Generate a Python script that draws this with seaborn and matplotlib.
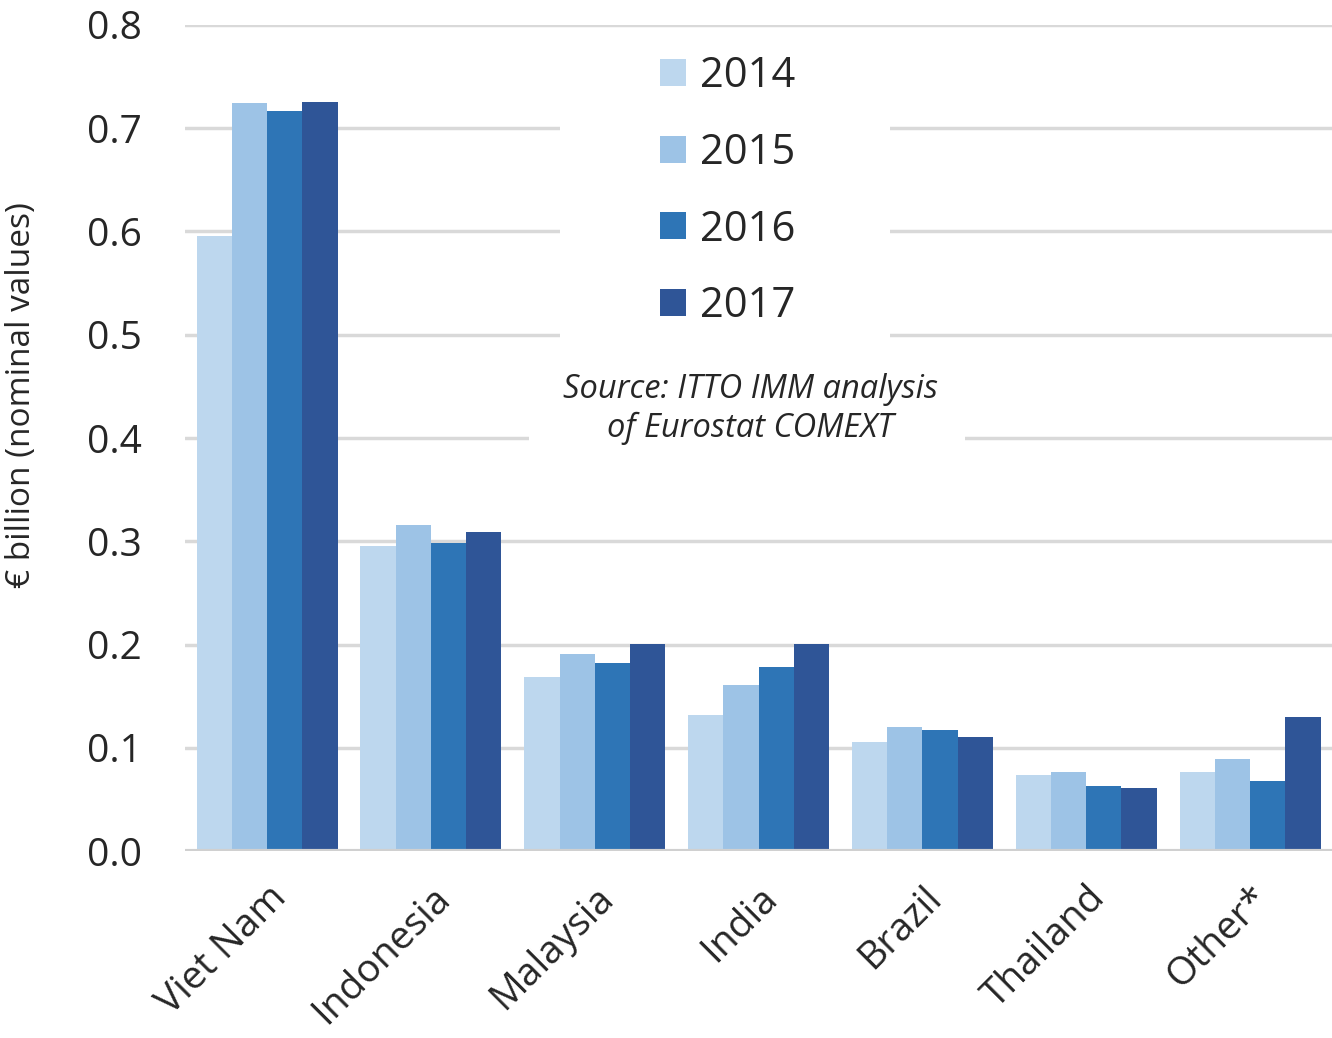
import pandas as pd
import matplotlib.pyplot as plt
import seaborn as sns
from matplotlib.patches import Rectangle

# Values (€ billion)
countries = ['Viet Nam', 'Indonesia', 'Malaysia', 'India', 'Brazil', 'Thailand', 'Other*']
years = ['2014', '2015', '2016', '2017']
v2014 = [0.596, 0.295, 0.169, 0.132, 0.106, 0.074, 0.077]
v2015 = [0.724, 0.316, 0.191, 0.161, 0.120, 0.077, 0.089]
v2016 = [0.717, 0.298, 0.182, 0.178, 0.117, 0.063, 0.068]
v2017 = [0.725, 0.309, 0.201, 0.201, 0.111, 0.061, 0.130]
colors = ['#BDD7EE', '#9DC3E6', '#2E75B6', '#2F5597']

df = pd.DataFrame({'Country': countries * 4,
                   'Year': [y for y in years for _ in countries],
                   'Value': v2014 + v2015 + v2016 + v2017})

sns.set_style('white')
plt.rcParams['font.family'] = ['Open Sans', 'DejaVu Sans']

fig = plt.figure(figsize=(13.32, 10.38), dpi=100)
ax = fig.add_axes([0.139, 0.18, 0.861, 0.796])

sns.barplot(data=df, x='Country', y='Value', hue='Year', palette=colors,
            width=0.86, gap=0, saturation=1, ax=ax, zorder=3, linewidth=0)

ax.set_ylim(0, 0.8)
ax.set_xlim(-0.5, 6.5)
ax.set_yticks([i / 10 for i in range(9)])
ax.set_yticklabels([f'{i / 10:.1f}' for i in range(9)], fontsize=28)
ax.yaxis.grid(True, color='#D9D9D9', linewidth=2.5, zorder=0)
ax.set_axisbelow(True)
for s in ['top', 'right', 'left', 'bottom']:
    ax.spines[s].set_visible(False)
ax.axhline(0, color='#D0D0D0', linewidth=3, zorder=4)
ax.tick_params(axis='y', length=0, pad=31)
ax.tick_params(axis='x', length=0, pad=20)
ax.set_xticks(range(len(countries)))
ax.set_xticklabels(countries, rotation=45, ha='right', rotation_mode='anchor', fontsize=28)
ax.set_xlabel('')
ax.set_ylabel('€ billion (nominal values)', fontsize=24)
ax.yaxis.set_label_coords(-0.128, 0.552)

# white panels behind legend and source note (cut the gridlines like the original)
ax.add_patch(Rectangle((0.327, 0.60), 0.288, 0.31, transform=ax.transAxes,
                       facecolor='white', edgecolor='none', zorder=2))
ax.add_patch(Rectangle((0.30, 0.47), 0.38, 0.10, transform=ax.transAxes,
                       facecolor='white', edgecolor='none', zorder=2))

leg = ax.legend(loc='upper left', bbox_to_anchor=(0.414, 0.963), frameon=False, fontsize=30,
                handlelength=0.62, handleheight=0.62, handletextpad=0.33, labelspacing=0.83,
                borderpad=0, borderaxespad=0)
leg.set_zorder(5)

ax.text(0.493, 0.535, 'Source: ITTO IMM analysis\nof Eurostat COMEXT', transform=ax.transAxes,
        ha='center', va='center', fontsize=23.5, style='italic', linespacing=1.25, zorder=5)

fig.savefig('out.png', dpi=100)
